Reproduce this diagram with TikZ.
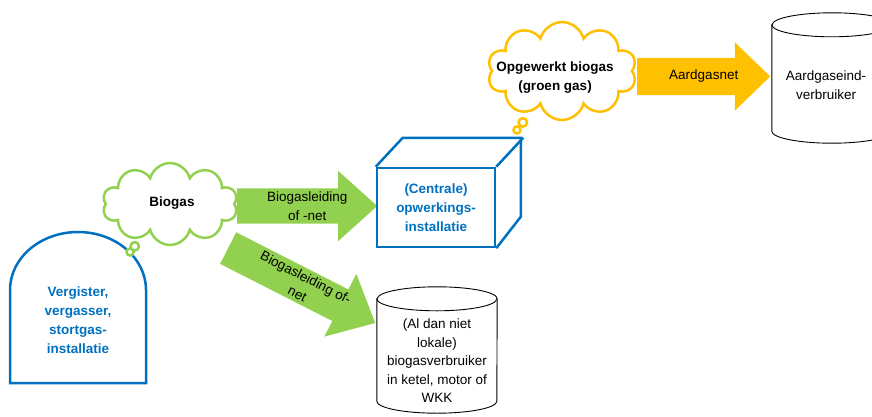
\documentclass[tikz,border=0pt]{standalone}
\usepackage{fontspec}
\setmainfont{Liberation Sans}
\usetikzlibrary{positioning,calc,shapes.geometric,shapes.arrows,shapes.symbols,shapes.callouts}
\definecolor{opblauw}{HTML}{0070C0}
\definecolor{biogroen}{HTML}{92D050}
\definecolor{gasgeel}{HTML}{FFC000}

\begin{document}
\begin{tikzpicture}[x=1pt,y=1pt,
  font=\fontsize{13.5}{18.5}\selectfont,
  pijl/.style={single arrow,inner xsep=0pt,inner ysep=17.5pt,
               single arrow head extend=17.5pt,single arrow tip angle=84,anchor=tail},
  pijltekst/.style={align=center,inner sep=0pt},
  blauwtekst/.style={align=center,text=opblauw,font=\fontsize{13.5}{19}\selectfont\bfseries},
  wolktekst/.style={align=center,inner sep=0pt,font=\fontsize{13.5}{19}\selectfont\bfseries},
  dik/.style={line width=2.5pt},
  wolk/.style={cloud callout,draw,fill=white,dik,cloud puffs=10,inner sep=0pt,
               callout pointer segments=2,callout pointer start size=10pt,
               callout pointer end size=7pt},
  vatvak/.style={inner sep=0pt,minimum width=120},
  vatlijn/.style={draw=black,line width=0.9pt}]
\useasboundingbox (0,0) rectangle (872,416);
% installatie links
\draw[opblauw,dik] (10,33) -- (10,126)
  arc[start angle=180,end angle=0,x radius=68,y radius=58] -- (146,33) -- cycle;
\node[blauwtekst] (verg) at (78,96) {Vergister,\\vergasser,\\stortgas-\\installatie};
% pijlen
\node[pijl,fill=biogroen,minimum height=140] (leid1) at (237,210) {};
\node[pijl,fill=biogroen,minimum height=165,rotate=-27] (leid2) at (228,168) {};
\node[pijl,fill=gasgeel,minimum height=133,inner ysep=18.5pt,
      single arrow head extend=15.5pt,single arrow tip angle=88] (net) at (637,339.5) {};
\node[pijltekst] (t1) at ($(leid1.tail)!.5!(leid1.tip)$) {Biogasleiding\\of -net};
\node[pijltekst,rotate=-27] (t2) at ($(leid2.tail)!.5!(leid2.tip)$) {Biogasleiding of-\\net};
\node[pijltekst] (t3) at ($(net.tail)!.5!(net.tip)$) {Aardgasnet};
% opwerkingsinstallatie (blok)
\node[draw=opblauw,dik,minimum width=118,minimum height=79,blauwtekst] (opw) at (436,208.5)
  {(Centrale)\\opwerkings-\\installatie};
\draw[opblauw,dik] (opw.north west) -- ++(27,29) -- ++(118,0) -- ++(0,-79) -- (opw.south east);
\draw[opblauw,dik] (opw.north east) -- ++(27,29);
% verbruikers (vaten)
\node[vatvak,minimum height=126] (lok) at (437,66) {};
\node[vatvak,minimum height=130] (eind) at (832,338) {};
\foreach \v in {lok,eind}{
  \draw[vatlijn,fill=white] ($(\v.north west)+(0,-12)$) -- ($(\v.south west)+(0,12)$)
    arc[start angle=180,end angle=360,x radius=60,y radius=12]
    -- ($(\v.north east)+(0,-12)$)
    arc[start angle=0,end angle=180,x radius=60,y radius=12] -- cycle;
  \draw[vatlijn] ($(\v.north west)+(0,-12)$) arc[start angle=180,end angle=360,x radius=60,y radius=12];
}
\node[pijltekst] (lokt) at (437,55)
  {(Al dan niet\\lokale)\\biogasverbruiker\\in ketel, motor of\\WKK};
\node[pijltekst] (eindt) at (826,331) {Aardgaseind-\\verbruiker};
% wolken
\node[wolk,draw=biogroen,minimum width=135,minimum height=82,
      callout absolute pointer={(130,164)}] (bio) at (170,212) {};
\node[wolktekst] (biot) at (172,213) {Biogas};
\node[wolk,draw=gasgeel,minimum width=149,minimum height=98,
      callout absolute pointer={(517,286)}] (groen) at (562,345) {};
\node[wolktekst] (groent) at (555,338) {Opgewerkt biogas\\(groen gas)};
\end{tikzpicture}
\end{document}
